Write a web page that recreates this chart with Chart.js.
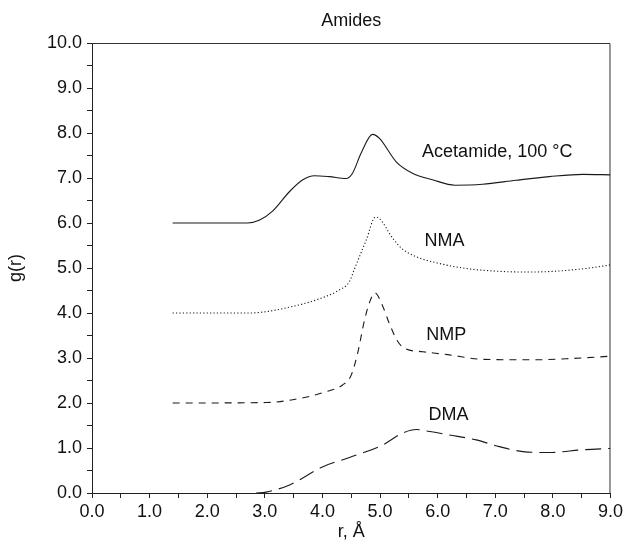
<!DOCTYPE html>
<html>
<head>
<meta charset="utf-8">
<script src="https://cdn.jsdelivr.net/npm/chart.js@4.4.0/dist/chart.umd.min.js"></script>
<style>
  body { margin: 0; background: #fff; }
  #wrap { width: 626px; height: 543px; }
</style>
</head>
<body>
<div id="wrap"><canvas id="rdf-chart" width="626" height="543"></canvas></div>
<script>
// radial distribution curves (r in Å, g(r) offset per liquid)
const rAcet = [1.4, 2.7, 2.9, 3.14, 3.43, 3.66, 3.86, 4.12, 4.41, 4.52, 4.67, 4.87, 4.99, 5.28, 5.57, 5.91, 6.3, 6.78, 7.36, 7.94, 8.52, 9.0];
const gAcet = [6.0, 6.0, 6.06, 6.27, 6.7, 6.96, 7.05, 7.03, 6.99, 7.1, 7.55, 7.97, 7.88, 7.36, 7.1, 6.96, 6.84, 6.86, 6.95, 7.03, 7.08, 7.07];

const rNMA = [1.4, 2.73, 3.02, 3.43, 3.89, 4.29, 4.47, 4.55, 4.76, 4.92, 4.99, 5.22, 5.39, 5.63, 6.03, 6.49, 7.01, 7.59, 8.06, 8.58, 9.0];
const gNMA = [4.0, 4.0, 4.03, 4.13, 4.29, 4.51, 4.7, 4.96, 5.62, 6.13, 6.1, 5.66, 5.42, 5.25, 5.1, 4.99, 4.93, 4.91, 4.93, 4.99, 5.07];

const rNMP = [1.4, 3.02, 3.6, 4.06, 4.35, 4.5, 4.61, 4.73, 4.81, 4.91, 5.05, 5.16, 5.31, 5.45, 5.74, 6.2, 6.78, 7.65, 8.34, 9.0];
const gNMP = [2.0, 2.01, 2.1, 2.25, 2.4, 2.62, 3.1, 3.84, 4.21, 4.45, 4.14, 3.77, 3.36, 3.2, 3.14, 3.07, 2.97, 2.96, 2.99, 3.04];

const rDMA = [2.85, 3.02, 3.43, 4.0, 4.47, 5.05, 5.39, 5.63, 5.8, 6.2, 6.67, 7.07, 7.48, 7.94, 8.52, 9.0];
const gDMA = [0.0, 0.02, 0.18, 0.58, 0.79, 1.07, 1.33, 1.41, 1.38, 1.29, 1.18, 1.03, 0.92, 0.9, 0.96, 0.99];

// curve names and where they are written (data coordinates of the text's left/middle)
const curveNames = ["Acetamide, 100 °C", "NMA", "NMP", "DMA"];
const nameR = [5.73, 5.77, 5.8, 5.84];
const nameG = [7.58, 5.6, 3.51, 1.73];

const FONT = "'Liberation Sans', Arial, Helvetica, sans-serif";
const INK = "#1a1a1a";

function pts(xs, ys) {
  return xs.map((x, i) => ({ x: x, y: ys[i] }));
}

function curve(label, xs, ys, dash) {
  return {
    label: label,
    data: pts(xs, ys),
    borderColor: INK,
    borderWidth: 1.1,
    borderDash: dash,
    pointRadius: 0,
    fill: false,
    cubicInterpolationMode: "monotone",
  };
}

// frame on top/right + curve names + title
const decor = {
  id: "decor",
  afterDraw(chart) {
    const { ctx, chartArea: a, scales } = chart;
    ctx.save();
    ctx.strokeStyle = "#333";
    ctx.lineWidth = 1;
    ctx.beginPath();
    ctx.moveTo(a.left, a.top + 0.5);
    ctx.lineTo(a.right - 0.5, a.top + 0.5);
    ctx.lineTo(a.right - 0.5, a.bottom);
    ctx.stroke();

    ctx.fillStyle = "#111";
    ctx.font = "18px " + FONT;
    ctx.textBaseline = "middle";
    ctx.textAlign = "left";
    curveNames.forEach((n, i) => {
      ctx.fillText(n, scales.x.getPixelForValue(nameR[i]), scales.y.getPixelForValue(nameG[i]));
    });

    ctx.textAlign = "center";
    ctx.fillText("Amides", (a.left + a.right) / 2, 21);
    ctx.restore();
  },
};

const ctx = document.getElementById("rdf-chart").getContext("2d");
new Chart(ctx, {
  type: "line",
  data: {
    datasets: [
      curve("Acetamide, 100 °C", rAcet, gAcet, []),
      curve("NMA", rNMA, gNMA, [1.2, 2.2]),
      curve("NMP", rNMP, gNMP, [7, 6]),
      curve("DMA", rDMA, gDMA, [16, 7]),
    ],
  },
  options: {
    responsive: false,
    animation: false,
    layout: { padding: { top: 43, right: 15, left: 0, bottom: 0 } },
    plugins: {
      legend: { display: false },
      tooltip: { enabled: false },
    },
    scales: {
      x: {
        type: "linear",
        min: 0,
        max: 9,
        afterFit(s) { s.height = 50; },
        border: { display: true, color: "#222", width: 1 },
        grid: { drawOnChartArea: false, tickLength: 5, color: "#222" },
        ticks: {
          stepSize: 0.5,
          autoSkip: false,
          maxRotation: 0,
          padding: 3,
          color: "#111",
          font: { family: FONT, size: 18 },
          callback: (v) => (Number.isInteger(v) ? v.toFixed(1) : ""),
        },
        title: {
          display: true,
          text: "r, Å",
          color: "#111",
          font: { family: FONT, size: 18 },
          padding: { top: 0, bottom: 0 },
        },
      },
      y: {
        min: 0,
        max: 10,
        afterFit(s) { s.width = 92; },
        border: { display: true, color: "#222", width: 1 },
        grid: { drawOnChartArea: false, tickLength: 5, color: "#222" },
        ticks: {
          stepSize: 0.5,
          autoSkip: false,
          padding: 5,
          color: "#111",
          font: { family: FONT, size: 18 },
          callback: (v) => (Number.isInteger(v) ? v.toFixed(1) : ""),
        },
        title: {
          display: true,
          text: "g(r)",
          color: "#111",
          font: { family: FONT, size: 18 },
          padding: { top: 5, bottom: 0 },
        },
      },
    },
  },
  plugins: [decor],
});
</script>
</body>
</html>
